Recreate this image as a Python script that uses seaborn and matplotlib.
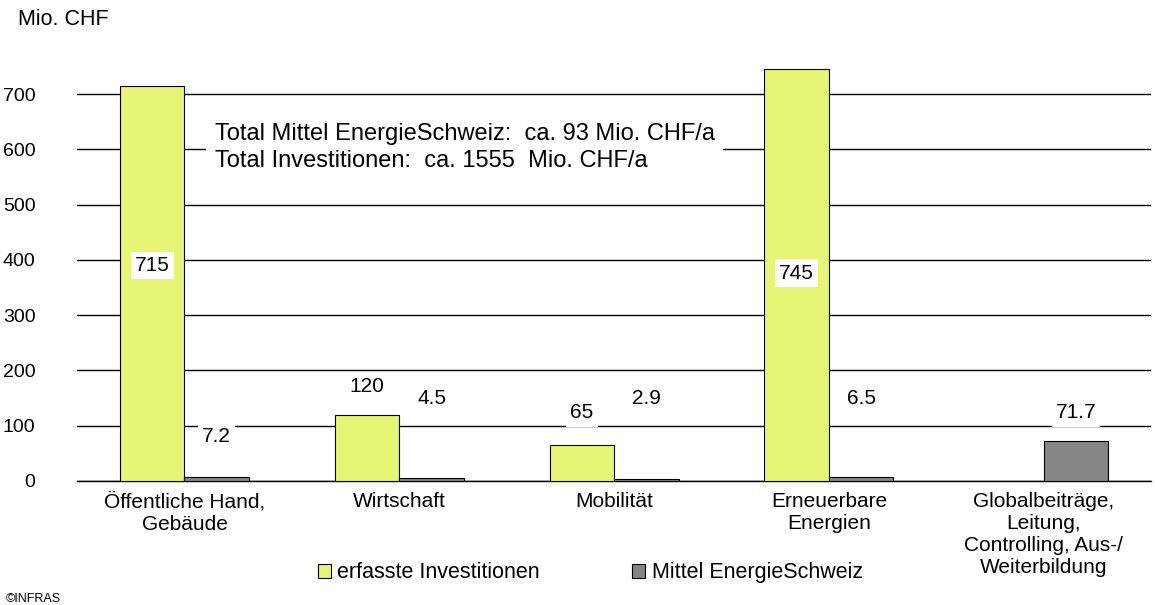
import pandas as pd
import numpy as np
import matplotlib.pyplot as plt
import seaborn as sns
from matplotlib.patches import Patch

sns.set_style("white")
plt.rcParams["font.family"] = ["Liberation Sans", "DejaVu Sans"]
plt.rcParams["text.color"] = "black"
plt.rcParams["xtick.color"] = "black"
plt.rcParams["ytick.color"] = "black"

# data
categories = ["Öffentliche Hand,\nGebäude", "Wirtschaft", "Mobilität",
              "Erneuerbare\nEnergien",
              "Globalbeiträge,\nLeitung,\nControlling, Aus-/\nWeiterbildung"]
investitionen = [715, 120, 65, 745, np.nan]
mittel = [7.2, 4.5, 2.9, 6.5, 71.7]
series = ["erfasste Investitionen", "Mittel EnergieSchweiz"]

# label heights (data units) as placed in the original
inv_label_y = [390, 170, 123, 376, np.nan]
mit_label_y = [80, 150, 150, 150, 123]

df = pd.DataFrame({
    "cat": categories * 2,
    "series": [series[0]] * 5 + [series[1]] * 5,
    "value": investitionen + mittel,
})

colors = {series[0]: "#E6F573", series[1]: "#858585"}

fig = plt.figure(figsize=(11.55, 6.05), dpi=100)
ax = fig.add_axes([0.0667, 0.205, 0.93, 0.731])

sns.barplot(data=df, x="cat", y="value", hue="series", order=categories,
            hue_order=series, palette=colors, saturation=1, width=0.6, gap=0,
            edgecolor="black", linewidth=0.8, legend=False, ax=ax, zorder=3)

ax.set_ylim(0, 800)
ax.set_xlim(-0.5, 4.5)
ax.set_yticks(range(0, 701, 100))
ax.yaxis.grid(True, color="black", linewidth=1)
ax.set_axisbelow(True)
for s in ["top", "right", "left"]:
    ax.spines[s].set_visible(False)
ax.spines["bottom"].set_color("black")
ax.spines["bottom"].set_linewidth(1)
ax.set_xlabel("")
ax.set_ylabel("")
ax.tick_params(axis="y", length=0, pad=30, labelsize=14)
ax.tick_params(axis="x", which="major", length=0, pad=8, labelsize=15)
ax.set_xticks(np.arange(-0.5, 5, 1), minor=True)
ax.tick_params(axis="x", which="minor", length=6, width=1, color="black",
               direction="out")
for lbl in ax.get_xticklabels():
    lbl.set_linespacing(1.2)

box = dict(facecolor="white", edgecolor="none", pad=3)
for i in range(5):
    if not np.isnan(investitionen[i]):
        ax.text(i - 0.15, inv_label_y[i], f"{investitionen[i]:g}", ha="center",
                va="center", fontsize=15, bbox=box, zorder=4)
    ax.text(i + 0.15, mit_label_y[i], f"{mittel[i]:g}", ha="center",
            va="center", fontsize=15, bbox=box, zorder=4)

ax.text(0.14, 603, "Total Mittel EnergieSchweiz:  ca. 93 Mio. CHF/a\n"
        "Total Investitionen:  ca. 1555  Mio. CHF/a",
        ha="left", va="center", fontsize=17, linespacing=1.3,
        bbox=dict(facecolor="white", edgecolor="none", pad=6), zorder=4)

fig.text(0.016, 0.968, "Mio. CHF", ha="left", va="center", fontsize=15.5)
fig.text(0.005, 0.010, "©INFRAS", ha="left", va="center", fontsize=9)

handles = [Patch(facecolor=colors[s], edgecolor="black", linewidth=0.8)
           for s in series]
fig.legend(handles, series, loc="center", bbox_to_anchor=(0.511, 0.053),
           ncol=2, frameon=False, fontsize=15.5, handlelength=0.6,
           handleheight=0.6, handletextpad=0.3, columnspacing=4.3)

fig.savefig("out.png", dpi=100)
